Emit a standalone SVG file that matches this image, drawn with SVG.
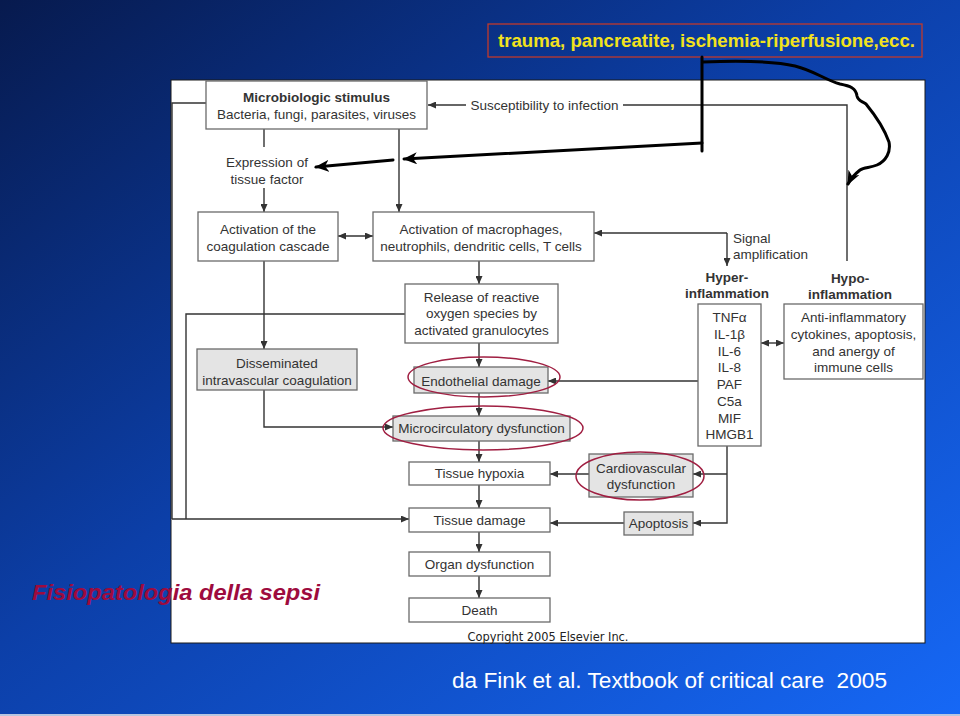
<svg xmlns="http://www.w3.org/2000/svg" width="960" height="716" viewBox="0 0 960 716">
<defs>
<linearGradient id="bg" x1="0" y1="0" x2="1" y2="1">
<stop offset="0" stop-color="#071a4e"/>
<stop offset="0.45" stop-color="#0c3fa8"/>
<stop offset="1" stop-color="#1668f6"/>
</linearGradient>
<marker id="ah" viewBox="0 0 8 7" refX="8" refY="3.5" markerWidth="8" markerHeight="7" markerUnits="userSpaceOnUse" orient="auto-start-reverse">
<path d="M0,0 L8,3.5 L0,7 z" fill="#333"/>
</marker>
<marker id="bh" viewBox="0 0 14 12" refX="13" refY="6" markerWidth="14" markerHeight="12" markerUnits="userSpaceOnUse" orient="auto">
<path d="M0,0 L14,6 L0,12 L4,6 z" fill="#000"/>
</marker>
<style>
.box{fill:#fff;stroke:#6a6a6a;stroke-width:1.3}
.gray{fill:#e4e4e4;stroke:#6a6a6a;stroke-width:1.3}
.t{font-family:"Liberation Sans",Arial,sans-serif;font-size:13.5px;fill:#333;text-anchor:middle}
.b{font-weight:bold}
.l{text-anchor:start}
.c{fill:none;stroke:#333;stroke-width:1.4}
.a{marker-end:url(#ah)}
.d{marker-start:url(#ah);marker-end:url(#ah)}
.hand{fill:none;stroke:#000;stroke-width:3;stroke-linecap:round;stroke-linejoin:round}
.ell{fill:none;stroke:#a01f42;stroke-width:1.5}
</style>
</defs>
<rect width="960" height="716" fill="url(#bg)"/>
<rect x="0" y="714" width="960" height="2" fill="#b8c6e0"/>

<g id="title-box">
<rect x="488" y="24" width="434" height="33" fill="none" stroke="#c0392b" stroke-width="1.3"/>
<text x="498" y="47" font-family="'Liberation Sans Narrow','Liberation Sans',Arial,sans-serif" font-size="19" font-weight="bold" fill="#f2e21c" textLength="417" lengthAdjust="spacingAndGlyphs">trauma, pancreatite, ischemia-riperfusione,ecc.</text>
</g>

<rect x="171" y="80" width="754" height="563" fill="#fff" stroke="#1a1a1a" stroke-width="1"/>

<g id="connectors">
<path class="c" d="M264,129 V147"/>
<path class="c a" d="M264,188 V212"/>
<path class="c a" d="M399,129 V212"/>
<path class="c d" d="M338,236 H373"/>
<path class="c a" d="M479,261 V284"/>
<path class="c a" d="M264,261 V349"/>
<path class="c a" d="M479,343 V367"/>
<path class="c a" d="M479,393 V416"/>
<path class="c a" d="M264,390 V427 H393"/>
<path class="c a" d="M479,441 V462"/>
<path class="c a" d="M479,485 V508"/>
<path class="c a" d="M479,532 V552"/>
<path class="c a" d="M479,576 V598"/>
<path class="c" d="M405,314 H186 V519"/>
<path class="c a" d="M172,519 H409"/>
<path class="c" d="M172,519 V103 H206"/>
<path class="c" d="M847,261 V105 H623"/>
<path class="c a" d="M466,105 H428"/>
<path class="c a" d="M727,233 H594"/>
<path class="c a" d="M727,233 V266"/>
<path class="c d" d="M761,343 H784"/>
<path class="c a" d="M698,381 H548"/>
<path class="c a" d="M727,446 V523 H693"/>
<path class="c a" d="M727,474 H693"/>
<path class="c a" d="M589,474 H550"/>
<path class="c a" d="M624,523 H550"/>
<path class="hand" d="M702,57 V151"/>
<path class="hand" d="M702,143 L404,159" marker-end="url(#bh)"/>
<path class="hand" d="M393,160 L316,167" marker-end="url(#bh)"/>
<path class="hand" d="M703,62 C730,61 770,60 795,66 C815,71 825,80 840,84 C850,86 856,88 857,96 C858,101 862,101 866,104 C875,115 884,128 889,142 C891,152 886,161 877,165 C870,168 864,167 860,170 C855,174 851,178 848,184" marker-end="url(#bh)"/>
</g>

<g id="susceptibility"><text class="t" x="544.5" y="110">Susceptibility to infection</text></g>

<g id="microbiologic"><rect class="box" x="206" y="81" width="221" height="48"/>
<text class="t b" x="316.5" y="102">Microbiologic stimulus</text>
<text class="t" x="316.5" y="119">Bacteria, fungi, parasites, viruses</text></g>

<g id="tissue-factor"><text class="t" x="267" y="167">Expression of</text>
<text class="t" x="267" y="184">tissue factor</text></g>

<g id="coagulation"><rect class="box" x="198" y="212" width="140" height="49"/>
<text class="t" x="268" y="234">Activation of the</text>
<text class="t" x="268" y="251">coagulation cascade</text></g>

<g id="macrophages"><rect class="box" x="373" y="212" width="221" height="49"/>
<text class="t" x="481" y="234">Activation of macrophages,</text>
<text class="t" x="481" y="251">neutrophils, dendritic cells, T cells</text></g>

<g id="ros"><rect class="box" x="405" y="284" width="153" height="59"/>
<text class="t" x="481.5" y="302">Release of reactive</text>
<text class="t" x="481.5" y="318">oxygen species by</text>
<text class="t" x="481.5" y="335">activated granulocytes</text></g>

<g id="dic"><rect class="gray" x="197" y="349" width="160" height="41"/>
<text class="t" x="277" y="368">Disseminated</text>
<text class="t" x="277" y="385">intravascular coagulation</text></g>

<g id="endothelial"><rect class="gray" x="414" y="367" width="134" height="26"/>
<text class="t" x="481" y="386">Endothelial damage</text>
<ellipse class="ell" cx="484" cy="377" rx="76" ry="20"/></g>

<g id="microcirculatory"><rect class="gray" x="393" y="416" width="177" height="25"/>
<text class="t" x="481.5" y="433">Microcirculatory dysfunction</text>
<ellipse class="ell" cx="483" cy="428" rx="100" ry="22"/></g>

<g id="hypoxia"><rect class="box" x="409" y="462" width="141" height="23"/>
<text class="t" x="479.5" y="478">Tissue hypoxia</text></g>

<g id="damage"><rect class="box" x="409" y="508" width="141" height="24"/>
<text class="t" x="479.5" y="525">Tissue damage</text></g>

<g id="organ"><rect class="box" x="409" y="552" width="141" height="24"/>
<text class="t" x="479.5" y="569">Organ dysfunction</text></g>

<g id="death"><rect class="box" x="409" y="598" width="141" height="24"/>
<text class="t" x="479.5" y="615">Death</text></g>

<g id="signal"><text class="t l" x="733" y="243">Signal</text>
<text class="t l" x="733" y="259">amplification</text></g>

<g id="hyper-label"><text class="t b" x="727" y="282">Hyper-</text>
<text class="t b" x="727" y="298">inflammation</text></g>

<g id="hypo-label"><text class="t b" x="850" y="283">Hypo-</text>
<text class="t b" x="850" y="299">inflammation</text></g>

<g id="cytokines"><rect class="box" x="698" y="304" width="63" height="142"/>
<text class="t" x="729.5" y="322">TNFα</text>
<text class="t" x="729.5" y="339">IL-1β</text>
<text class="t" x="729.5" y="355.5">IL-6</text>
<text class="t" x="729.5" y="372">IL-8</text>
<text class="t" x="729.5" y="389">PAF</text>
<text class="t" x="729.5" y="406">C5a</text>
<text class="t" x="729.5" y="422.5">MIF</text>
<text class="t" x="729.5" y="439">HMGB1</text></g>

<g id="anti-inflammatory"><rect class="box" x="784" y="304" width="139" height="75"/>
<text class="t" x="853.5" y="322">Anti-inflammatory</text>
<text class="t" x="853.5" y="339">cytokines, apoptosis,</text>
<text class="t" x="853.5" y="355.5">and anergy of</text>
<text class="t" x="853.5" y="372">immune cells</text></g>

<g id="cardiovascular"><rect class="gray" x="589" y="454" width="104" height="43"/>
<text class="t" x="641" y="473">Cardiovascular</text>
<text class="t" x="641" y="489">dysfunction</text>
<ellipse class="ell" cx="640" cy="476" rx="64" ry="24"/></g>

<g id="apoptosis"><rect class="gray" x="624" y="512" width="69" height="23"/>
<text class="t" x="658.5" y="528">Apoptosis</text></g>

<text x="548" y="641" font-family="'DejaVu Sans',Verdana,sans-serif" font-size="12" fill="#222" text-anchor="middle" textLength="161" lengthAdjust="spacingAndGlyphs">Copyright 2005 Elsevier Inc.</text>

<text x="32" y="600" font-family="'Liberation Sans',Arial,sans-serif" font-size="22" font-weight="bold" font-style="italic" fill="#9e0b3e" textLength="288" lengthAdjust="spacingAndGlyphs">Fisiopatologia della sepsi</text>

<text x="452" y="688" font-family="'Liberation Sans Narrow','Liberation Sans',Arial,sans-serif" font-size="22" fill="#fff" textLength="435" lengthAdjust="spacingAndGlyphs" xml:space="preserve">da Fink et al. Textbook of critical care  2005</text>
</svg>
